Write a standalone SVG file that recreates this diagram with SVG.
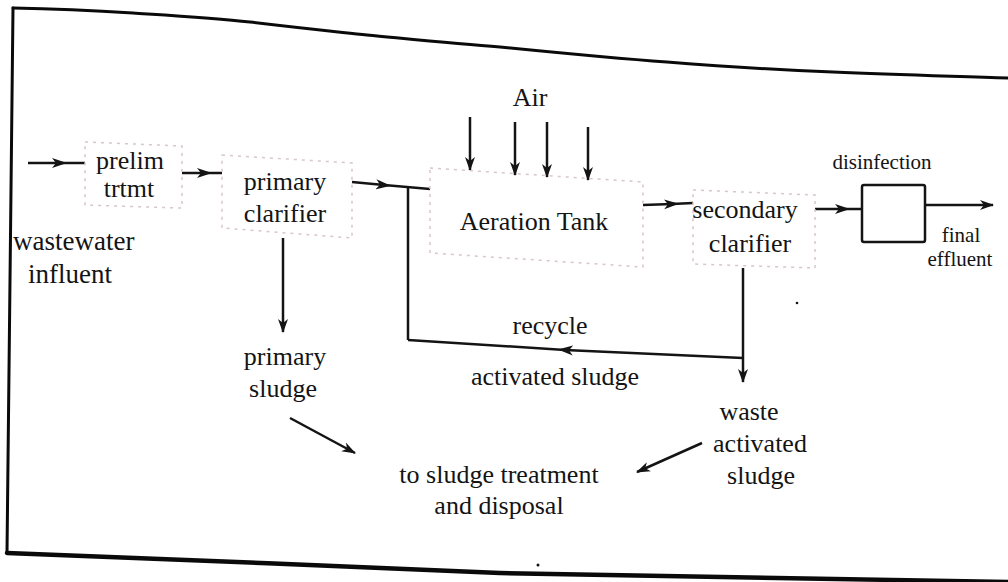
<svg xmlns="http://www.w3.org/2000/svg" width="1008" height="582" viewBox="0 0 1008 582">
  <style>
    .t { font-family: "Liberation Serif", "Times New Roman", serif; fill: #141414; font-size: 26px; text-anchor: middle; }
    .ts { font-size: 21px; }
    .tl { text-anchor: start; font-size: 27px; }
    .box { fill: none; stroke: #d9c6c8; stroke-width: 1.5; stroke-dasharray: 3 5; }
    .ln { fill: none; stroke: #141414; stroke-width: 2.5; stroke-linejoin: round; }
    .frame { fill: none; stroke: #0a0a0a; stroke-linecap: round; stroke-linejoin: round; }
  </style>
  <defs>
    <marker id="mid" markerUnits="userSpaceOnUse" markerWidth="16" markerHeight="12" viewBox="0 0 16 12" refX="8" refY="6" orient="auto">
      <path d="M0,1 L15,6 L0,11 L4,6 Z" fill="#141414"/>
    </marker>
    <marker id="tip" markerUnits="userSpaceOnUse" markerWidth="14" markerHeight="12" viewBox="0 0 14 12" refX="13" refY="6" orient="auto">
      <path d="M0,1 L14,6 L0,11 L4,6 Z" fill="#141414"/>
    </marker>
  </defs>
  <rect width="1008" height="582" fill="#ffffff"/>

  <g id="frame">
    <path class="frame" stroke-width="3" d="M13,8 C60,9 100,11 133,13 C180,16 215,18 250,22 C300,28 330,31 367,35 C420,40 460,44 500,47 C560,53 610,58 667,62 C730,67 780,70 833,72 C900,75 950,76 1008,78"/>
    <path class="frame" stroke-width="3" d="M13,8 L7,553"/>
    <path class="frame" stroke-width="4.5" d="M7,553 C150,558 350,567 500,573 C650,577 800,579 1008,582"/>
    <circle cx="538" cy="565" r="1.5" fill="#141414"/>
    <circle cx="797" cy="303" r="1.3" fill="#141414"/>
  </g>

  <g id="connectors">
    <path class="ln" d="M28,163 L60,163 L85,163" marker-mid="url(#mid)"/>
    <path class="ln" d="M182,173 L205,173 L222,173" marker-mid="url(#mid)"/>
    <path class="ln" d="M352,182 L384,185 L430,189" marker-mid="url(#mid)"/>
    <path class="ln" stroke-width="2" d="M470,117 L470,170" marker-end="url(#tip)"/>
    <path class="ln" stroke-width="2" d="M515,122 L515,175" marker-end="url(#tip)"/>
    <path class="ln" stroke-width="2" d="M547,122 L547,177" marker-end="url(#tip)"/>
    <path class="ln" stroke-width="2" d="M588,127 L588,180" marker-end="url(#tip)"/>
    <path class="ln" d="M643,205 L672,204 L693,203" marker-mid="url(#mid)"/>
    <path class="ln" d="M815,209 L843,209 L862,209" marker-mid="url(#mid)"/>
    <path class="ln" d="M925,205 L993,205" marker-end="url(#tip)"/>
    <path class="ln" stroke-width="2" d="M283,238 L283,332" marker-end="url(#tip)"/>
    <path class="ln" stroke-width="2" d="M743,268 L743,382" marker-end="url(#tip)"/>
    <path class="ln" d="M743,358 L565,350 L408,340" marker-mid="url(#mid)"/>
    <path class="ln" d="M408,340 L408,186"/>
    <path class="ln" stroke-width="2" d="M290,418 L355,453" marker-end="url(#tip)"/>
    <path class="ln" stroke-width="2" d="M702,443 L637,472" marker-end="url(#tip)"/>
  </g>

  <g id="air">
    <text class="t" x="530" y="106">Air</text>
  </g>

  <g id="influent">
    <text class="t tl" x="13" y="250">wastewater</text>
    <text class="t tl" x="28" y="283">influent</text>
  </g>

  <g id="prelim">
    <polygon class="box" points="85,142 182,146 182,208 85,205"/>
    <text class="t" x="130" y="169" font-size="24">prelim</text>
    <text class="t" x="129" y="197" font-size="24">trtmt</text>
  </g>

  <g id="primary-clarifier">
    <polygon class="box" points="222,155 352,163 352,238 222,228"/>
    <text class="t" x="285" y="190">primary</text>
    <text class="t" x="285" y="222">clarifier</text>
  </g>

  <g id="aeration-tank">
    <polygon class="box" points="430,168 643,182 643,267 430,253"/>
    <text class="t" x="534" y="230">Aeration Tank</text>
  </g>

  <g id="secondary-clarifier">
    <polygon class="box" points="693,190 815,195 815,268 693,264"/>
    <text class="t" x="745" y="218">secondary</text>
    <text class="t" x="750" y="252">clarifier</text>
  </g>

  <g id="disinfection">
    <rect x="862" y="185" width="63" height="57" rx="2" fill="none" stroke="#141414" stroke-width="2.5"/>
    <text class="t ts" x="882" y="169">disinfection</text>
  </g>

  <g id="final-effluent">
    <text class="t ts" x="961" y="242">final</text>
    <text class="t ts" x="960" y="266">effluent</text>
  </g>

  <g id="primary-sludge">
    <text class="t" x="285" y="365">primary</text>
    <text class="t" x="283" y="397">sludge</text>
  </g>

  <g id="recycle">
    <text class="t" x="550" y="334" font-size="24">recycle</text>
    <text class="t" x="555" y="385">activated sludge</text>
  </g>

  <g id="waste-activated-sludge">
    <text class="t" x="749" y="420">waste</text>
    <text class="t" x="760" y="452">activated</text>
    <text class="t" x="761" y="484">sludge</text>
  </g>

  <g id="sludge-treatment">
    <text class="t" x="499" y="483" font-size="27">to sludge treatment</text>
    <text class="t" x="499" y="514" font-size="27">and disposal</text>
  </g>
</svg>
